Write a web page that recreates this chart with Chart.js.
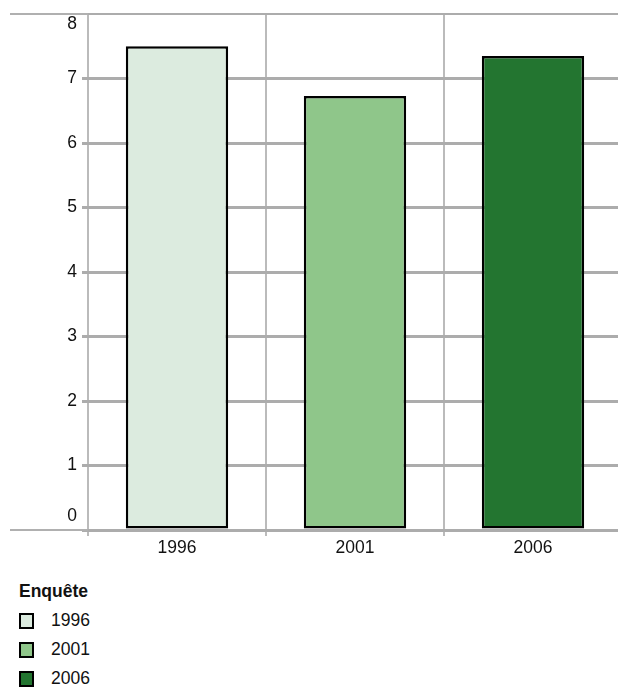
<!DOCTYPE html>
<html>
<head>
<meta charset="utf-8">
<script src="https://cdn.jsdelivr.net/npm/chart.js@4/dist/chart.umd.min.js"></script>
<style>
    html, body { margin: 0; padding: 0; background: #fff; overflow: hidden; }
    body { width: 618px; height: 688px; position: relative; font-family: "Liberation Sans", Arial, sans-serif; }
    #wrap { position: absolute; left: 0; top: 0; width: 630px; height: 570px; }
    #legend { position: absolute; left: 19px; top: 579px; color: #111; }
    #legend .title { font-weight: bold; font-size: 17.5px; height: 27px; line-height: 25px; }
    #legend .item { display: flex; align-items: center; height: 29px; font-size: 17.5px; }
    #legend .box { width: 11px; height: 12px; border: 2px solid #000; margin-right: 17px; }
</style>
</head>
<body>
<div id="wrap"><canvas id="chart"></canvas></div>
<div id="legend"></div>
<script>
// Données de l'enquête
const annees = ['1996', '2001', '2006'];
const valeurs = [7.5, 6.73, 7.35];
const couleurs = ['#dcebdf', '#8fc68a', '#237530'];
const titreLegende = 'Enquête';

const police = { family: 'Liberation Sans', size: 17.5 };

// Lignes grises prolongées vers la gauche (haut et base du graphique)
const lignesBord = {
    id: 'lignesBord',
    beforeDatasetsDraw(chart) {
        const { ctx, chartArea } = chart;
        ctx.save();
        ctx.strokeStyle = '#b0b0b0';
        ctx.lineWidth = 2;
        [chartArea.top, chartArea.bottom].forEach(y => {
            ctx.beginPath();
            ctx.moveTo(10, y);
            ctx.lineTo(chartArea.left, y);
            ctx.stroke();
        });
        ctx.restore();
    }
};

// Étiquettes de l'axe Y : la première et la dernière restent dans la zone du graphique
const etiquettesY = {
    id: 'etiquettesY',
    afterDraw(chart) {
        const { ctx, chartArea } = chart;
        const y = chart.scales.y;
        ctx.save();
        ctx.fillStyle = '#111';
        ctx.font = `${police.size}px "${police.family}"`;
        ctx.textAlign = 'right';
        y.ticks.forEach(t => {
            const py = y.getPixelForValue(t.value);
            if (t.value === y.max) {
                ctx.textBaseline = 'top';
                ctx.fillText(String(t.value), chartArea.left - 11, py + 1);
            } else if (t.value === y.min) {
                ctx.textBaseline = 'bottom';
                ctx.fillText(String(t.value), chartArea.left - 11, py - 5);
            } else {
                ctx.textBaseline = 'middle';
                ctx.fillText(String(t.value), chartArea.left - 11, py);
            }
        });
        ctx.restore();
    }
};

document.addEventListener('DOMContentLoaded', function() {
    const ctx = document.getElementById('chart').getContext('2d');
    new Chart(ctx, {
        type: 'bar',
        data: {
            labels: annees,
            datasets: [{
                data: valeurs,
                backgroundColor: couleurs,
                borderColor: '#000',
                borderWidth: 2.5,
                borderSkipped: false,
                categoryPercentage: 1,
                barPercentage: 0.575
            }]
        },
        options: {
            responsive: true,
            maintainAspectRatio: false,
            animation: false,
            layout: { padding: { top: 14, right: 8, left: 0, bottom: 0 } },
            plugins: {
                legend: { display: false },
                tooltip: { enabled: false }
            },
            scales: {
                x: {
                    grid: { offset: true, color: '#bbbbbb', lineWidth: 2, tickLength: 6 },
                    border: { display: false },
                    ticks: { color: '#111', font: police, padding: 2 },
                    afterFit: s => { s.height = 40; }
                },
                y: {
                    min: 0,
                    max: 8,
                    ticks: { stepSize: 1, display: false },
                    grid: {
                        color: '#acacac',
                        lineWidth: c => (c.tick && c.tick.value === 8 ? 2 : 3),
                        tickLength: 6
                    },
                    border: { display: false },
                    afterFit: s => { s.width = 88; }
                }
            }
        },
        plugins: [lignesBord, etiquettesY]
    });

    // Légende
    const leg = document.getElementById('legend');
    const t = document.createElement('div');
    t.className = 'title';
    t.textContent = titreLegende;
    leg.appendChild(t);
    annees.forEach((a, i) => {
        const it = document.createElement('div');
        it.className = 'item';
        const b = document.createElement('div');
        b.className = 'box';
        b.style.background = couleurs[i];
        const s = document.createElement('span');
        s.textContent = a;
        it.appendChild(b);
        it.appendChild(s);
        leg.appendChild(it);
    });
});
</script>
</body>
</html>
